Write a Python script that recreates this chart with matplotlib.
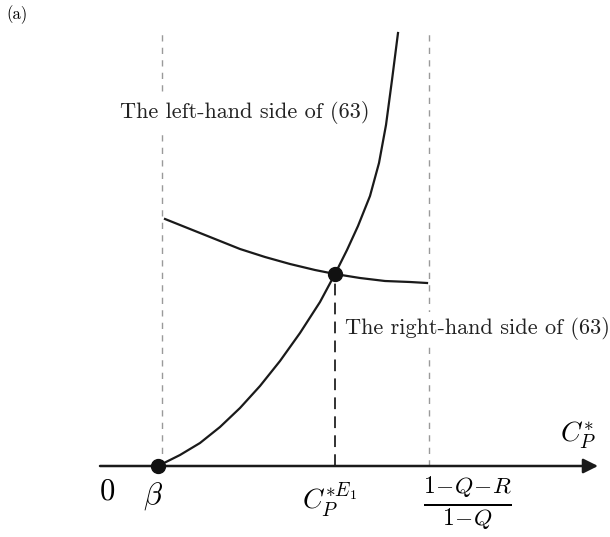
import numpy as np
import matplotlib.pyplot as plt

plt.rcParams["mathtext.fontset"] = "cm"
plt.rcParams["font.family"] = "cmr10"
plt.rcParams["axes.formatter.use_mathtext"] = True

# Left-hand side of (63): rises from beta and blows up near the bound
lhs_x = [158, 180, 200, 220, 240, 260, 280, 300, 320, 335, 347, 358, 370, 379, 386, 392, 398]
lhs_y = [0, 11, 23, 39, 58, 80, 105, 133, 164, 192, 216, 240, 270, 303, 341, 386, 433]

# Right-hand side of (63): slowly decreasing between the two bounds
rhs_x = [165, 190, 215, 240, 265, 290, 315, 335, 360, 385, 410, 427]
rhs_y = [247, 237, 227, 217, 209, 202, 196, 192, 188, 185, 184, 183]

beta_x = 158
eq_x, eq_y = 335, 192
bounds_x = [162, 429]
top_y = 434

fig = plt.figure(figsize=(6.1, 5.37), dpi=100)
ax = fig.add_axes([0, 0, 1, 1])
ax.set_xlim(0, 610)
ax.set_ylim(-71, 466)
ax.axis("off")

# grey guides at beta and (1-Q-R)/(1-Q)
for bx in bounds_x:
    ax.plot([bx, bx], [0, top_y], color="#9a9a9a", lw=1.0,
            linestyle=(0, (4.5, 4.5)), zorder=1)

# equilibrium drop line
ax.plot([eq_x, eq_x], [0, eq_y], color="#222222", lw=1.3,
        linestyle=(0, (6.5, 4)), zorder=2)

# C_P^* axis
ax.annotate("", xy=(598, 0), xytext=(100, 0),
            arrowprops=dict(arrowstyle="-|>", lw=1.8, color="#1a1a1a",
                            mutation_scale=22, shrinkA=0, shrinkB=0))

ax.plot(lhs_x, lhs_y, color="#1a1a1a", lw=1.6, zorder=3,
        solid_joinstyle="round")
ax.plot(rhs_x, rhs_y, color="#1a1a1a", lw=1.6, zorder=3,
        solid_joinstyle="round")

ax.plot([beta_x], [0], "o", color="#111111", ms=10, zorder=4)
ax.plot([eq_x], [eq_y], "o", color="#111111", ms=10, zorder=4)

# curve labels sit on a white patch that hides the guide lines
label_box = dict(facecolor="white", edgecolor="none", pad=3)
ax.text(120, 466 - 113, "The left-hand side of (63)", fontsize=16,
        ha="left", va="center", color="#222222", bbox=label_box, zorder=5)
ax.text(345, 466 - 328, "The right-hand side of (63)", fontsize=16,
        ha="left", va="center", color="#222222", bbox=label_box, zorder=5)

ax.text(6, 466 - 15, "(a)", fontsize=12, ha="left", va="center")

ax.text(107, -26, "$0$", fontsize=22, ha="center", va="center")
ax.text(153, -30, r"$\beta$", fontsize=22, ha="center", va="center")
ax.text(330, -34, r"$C_P^{*E_1}$", fontsize=20, ha="center", va="center")
ax.text(467, -37, r"$\frac{1\!-\!Q\!-\!R}{1\!-\!Q}$", fontsize=24,
        ha="center", va="center")
ax.text(578, 31, r"$C_P^{*}$", fontsize=20, ha="center", va="center")

fig.savefig("out.png", dpi=100)
